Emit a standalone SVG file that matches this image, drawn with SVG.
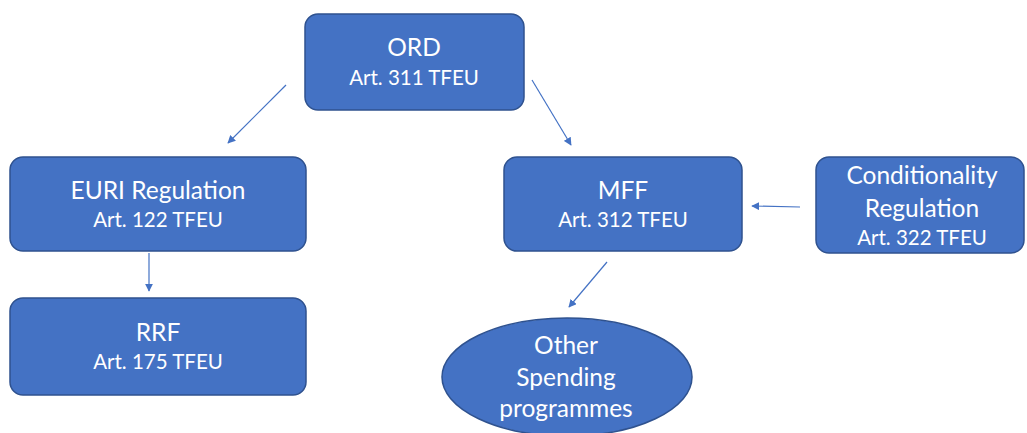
<svg xmlns="http://www.w3.org/2000/svg" width="1027" height="433" viewBox="0 0 1027 433">
<defs>
<style>
.box{fill:#4472C4;stroke:#2F528F;stroke-width:1.5}
.t{font-family:Lato,"Liberation Sans",sans-serif;fill:#fff;text-anchor:middle}
.big{font-size:24.5px}
.sm{font-size:20.5px}
.c{stroke:#4472C4;stroke-width:1.2;fill:none;marker-end:url(#ah)}
</style>
<marker id="ah" viewBox="0 0 10 10" refX="9" refY="5" markerWidth="8" markerHeight="8" markerUnits="userSpaceOnUse" orient="auto">
<path d="M0,0 L10,5 L0,10 z" fill="#4472C4"/>
</marker>
</defs>
<rect width="1027" height="433" fill="#fff"/>
<g id="connectors">
<line class="c" x1="286" y1="85" x2="228" y2="143"/>
<line class="c" x1="532" y1="80" x2="571" y2="145"/>
<line class="c" x1="149" y1="253" x2="149" y2="291"/>
<line class="c" x1="800" y1="207" x2="752" y2="206"/>
<line class="c" x1="607" y1="262" x2="569" y2="307"/>
</g>
<g id="ord">
<rect class="box" x="305" y="14" width="219" height="96" rx="13"/>
<text class="t big" x="414" y="56">ORD</text>
<text class="t sm" x="414" y="85">Art. 311 TFEU</text>
</g>
<g id="euri">
<rect class="box" x="10" y="157" width="296" height="94" rx="13"/>
<text class="t big" x="158" y="199">EURI Regulation</text>
<text class="t sm" x="158" y="227">Art. 122 TFEU</text>
</g>
<g id="mff">
<rect class="box" x="504" y="157" width="238" height="94" rx="13"/>
<text class="t big" x="623" y="199">MFF</text>
<text class="t sm" x="623" y="227">Art. 312 TFEU</text>
</g>
<g id="conditionality">
<rect class="box" x="816" y="157" width="208" height="96" rx="13"/>
<text class="t big" x="922" y="184">Conditionality</text>
<text class="t big" x="922" y="217">Regulation</text>
<text class="t sm" x="922" y="245">Art. 322 TFEU</text>
</g>
<g id="rrf">
<rect class="box" x="10" y="298" width="296" height="97" rx="13"/>
<text class="t big" x="158" y="341">RRF</text>
<text class="t sm" x="158" y="369">Art. 175 TFEU</text>
</g>
<g id="other">
<ellipse class="box" cx="567" cy="377" rx="125" ry="59"/>
<text class="t big" x="566" y="354">Other</text>
<text class="t big" x="566" y="386">Spending</text>
<text class="t big" x="566" y="417">programmes</text>
</g>
</svg>
